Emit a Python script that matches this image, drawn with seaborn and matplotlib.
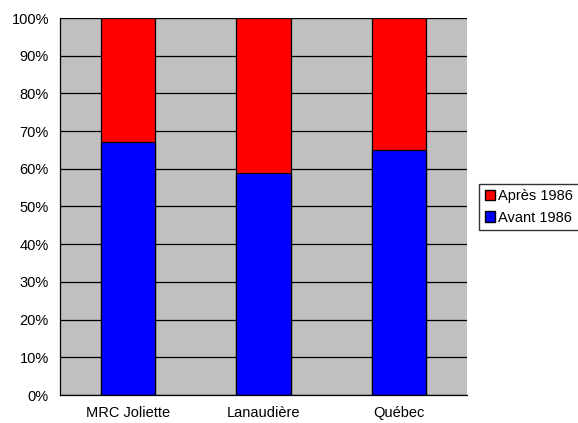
import matplotlib
matplotlib.use("Agg")
import matplotlib.pyplot as plt
import seaborn as sns
import pandas as pd
from matplotlib.patches import Patch

# Données (parts en %)
regions = ["MRC Joliette", "Lanaudière", "Québec"]
avant_1986 = [67, 59, 65]
apres_1986 = [33, 41, 35]

sns.set_style("white")
plt.rcParams["font.family"] = ["Liberation Sans", "DejaVu Sans"]
plt.rcParams["text.color"] = "black"
plt.rcParams["xtick.color"] = "black"
plt.rcParams["ytick.color"] = "black"
plt.rcParams["axes.labelcolor"] = "black"

df = pd.DataFrame({"region": regions, "avant": avant_1986, "apres": apres_1986})
df["total"] = df["avant"] + df["apres"]

fig = plt.figure(figsize=(5.78, 4.23), dpi=100)
ax = fig.add_axes([60 / 578, 1 - 395 / 423, (467 - 60) / 578, (395 - 18) / 423])
ax.set_facecolor("#C0C0C0")

# grille horizontale noire
ax.set_axisbelow(True)
ax.yaxis.grid(True, color="black", linewidth=0.9)

sns.barplot(data=df, x="region", y="total", color="#FF0000", width=0.4,
            edgecolor="black", linewidth=0.9, saturation=1, ax=ax)
sns.barplot(data=df, x="region", y="avant", color="#0000FF", width=0.4,
            edgecolor="black", linewidth=0.9, saturation=1, ax=ax)

ax.set_xlim(-0.5, 2.5)
ax.set_ylim(0, 100)
ax.set_yticks(range(0, 101, 10))
ax.set_yticklabels([f"{v}%" for v in range(0, 101, 10)])
ax.set_xticks([-0.5, 0.5, 1.5, 2.5], minor=True)
ax.tick_params(axis="x", which="major", length=0, pad=8, labelsize=10.5, labelcolor="black")
ax.tick_params(axis="x", which="minor", length=5, width=0.9, color="black")
ax.tick_params(axis="y", length=5, width=0.9, color="black", labelsize=10.5, pad=3,
               labelcolor="black")
ax.set_xlabel("")
ax.set_ylabel("")

for side in ["top", "right"]:
    ax.spines[side].set_visible(False)
for side in ["left", "bottom"]:
    ax.spines[side].set_color("black")
    ax.spines[side].set_linewidth(0.9)

handles = [Patch(facecolor="#FF0000", edgecolor="black", label="Après 1986"),
           Patch(facecolor="#0000FF", edgecolor="black", label="Avant 1986")]
leg = fig.legend(handles=handles, loc="center left", bbox_to_anchor=(479 / 578, 1 - 207 / 423),
                 frameon=True, fancybox=False, edgecolor="black", fontsize=10.5,
                 handlelength=0.7, handleheight=0.7, handletextpad=0.2, borderpad=0.4,
                 labelspacing=0.5, borderaxespad=0)
for t in leg.get_texts():
    t.set_color("black")

fig.savefig("out.png", dpi=100)
